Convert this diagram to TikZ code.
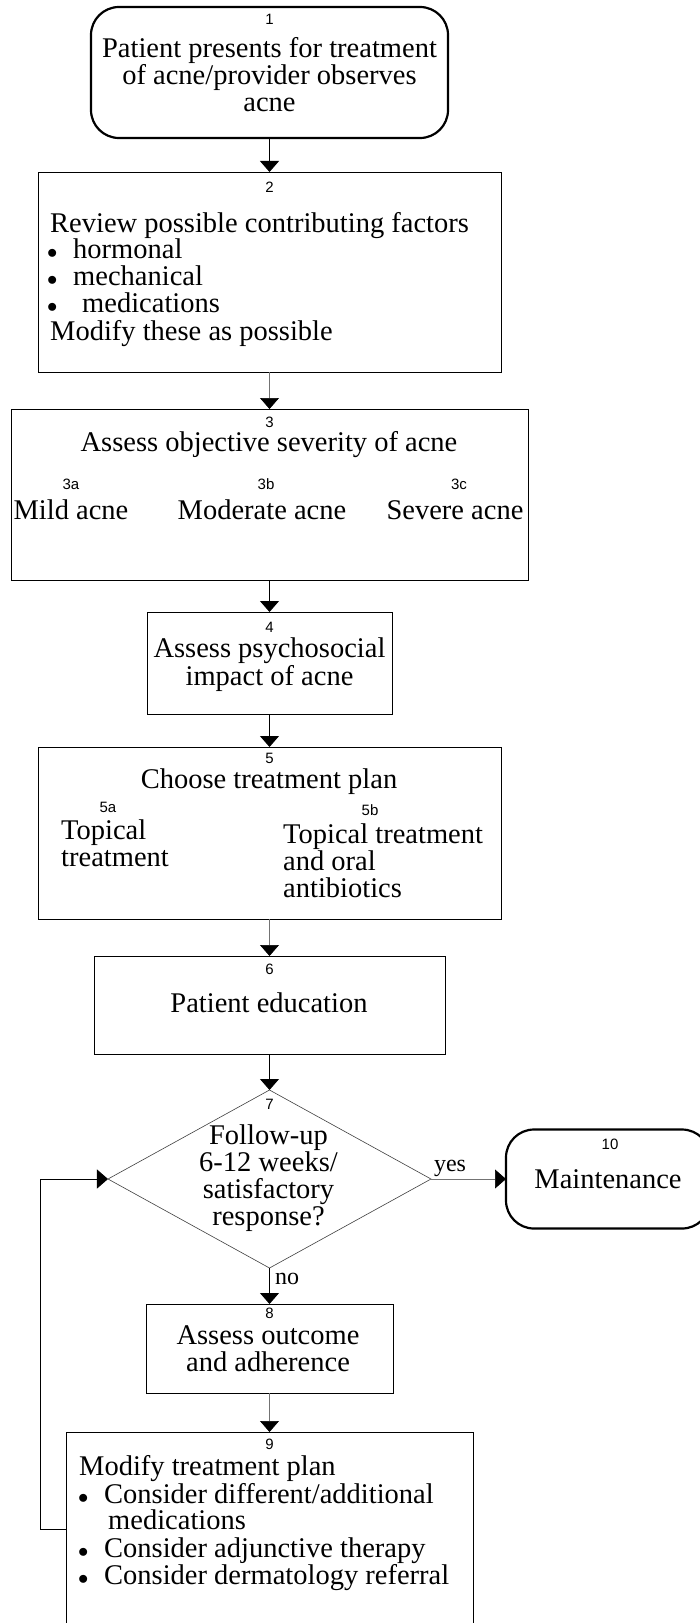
\documentclass[tikz,border=0pt]{standalone}
\usepackage{fontspec}
\setmainfont{Liberation Serif}
\setsansfont{Liberation Sans}
\usetikzlibrary{arrows.meta,shapes.geometric}
\newcommand\bl[1]{\makebox[#1][l]{\fontsize{20bp}{20bp}\selectfont$\bullet$}}
\tikzset{
  box/.style={draw=black, line width=0.9bp, rectangle, inner sep=0pt, outer sep=0pt},
  term/.style={draw=black, line width=2.2bp, rectangle, rounded corners=28bp, inner sep=0pt, outer sep=0pt},
  dec/.style={draw=black!75, line width=0.6bp, diamond, inner sep=0pt, outer sep=0pt},
  txt/.style={font=\fontsize{28.5bp}{30bp}\selectfont, inner sep=0pt, anchor=base},
  txtl/.style={txt, anchor=base west},
  num/.style={font=\sffamily\fontsize{15bp}{15bp}\selectfont, inner sep=0pt, anchor=base},
  tip/.style={-{Triangle[width=19bp,length=11bp,color=black]}},
  conn/.style={tip, draw=black, line width=0.9bp},
  conng/.style={tip, draw=black!55, line width=0.6bp},
}
\begin{document}
\begin{tikzpicture}[x=1bp,y=-1bp]
\useasboundingbox (0,0) rectangle (700,1623);
\fill[white] (0,0) rectangle (700,1623);
\clip (0,0) rectangle (700,1623);

% ---------- shapes ----------
\node[term, minimum width=357bp, minimum height=131bp] (n1) at (269.5,72.5) {};
\node[box, minimum width=463bp, minimum height=200bp] (b2) at (269.5,272) {};
\node[box, minimum width=517bp, minimum height=171bp] (b3) at (269.5,494.5) {};
\node[box, minimum width=245bp, minimum height=102bp] (b4) at (269.5,663) {};
\node[box, minimum width=463bp, minimum height=172bp] (b5) at (269.5,833) {};
\node[box, minimum width=351bp, minimum height=98bp] (b6) at (269.5,1005) {};
\node[dec, minimum width=323bp, minimum height=178bp] (d7) at (269.5,1179) {};
\node[term, minimum width=204bp, minimum height=99bp] (n10) at (608,1179) {};
\node[box, minimum width=247bp, minimum height=89bp] (b8) at (269.5,1348.5) {};
\node[box, minimum width=407bp, minimum height=220bp] (b9) at (269.5,1542) {};

% ---------- texts ----------
% 1
\node[num] (l1) at (269.5,25) {1};
\node[txt] (t1a) at (269.5,58) {Patient presents for treatment};
\node[txt] (t1b) at (269.5,84.5) {of acne/provider observes};
\node[txt] (t1c) at (269.5,111) {acne};
% 2
\node[num] (l2) at (269.5,192) {2};
\node[txtl] (t2a) at (50,232) {Review possible contributing factors};
\node[txtl] (t2b) at (47,258) {\bl{26bp}hormonal};
\node[txtl] (t2c) at (47,285) {\bl{26bp}mechanical};
\node[txtl] (t2d) at (47,312) {\bl{35bp}medications};
\node[txtl] (t2e) at (50,340) {Modify these as possible};
% 3
\node[num] (l3) at (269.5,427) {3};
\node[txt] (t3) at (269,451) {Assess objective severity of acne};
\node[num] (l3a) at (71,489) {3a};
\node[num] (l3b) at (266,489) {3b};
\node[num] (l3c) at (459,489) {3c};
\node[txt] (t3a) at (71,519) {Mild acne};
\node[txt] (t3b) at (262,519) {Moderate acne};
\node[txt] (t3c) at (455,519) {Severe acne};
% 4
\node[num] (l4) at (269.5,632) {4};
\node[txt] (t4a) at (269.5,657) {Assess psychosocial};
\node[txt] (t4b) at (269.5,685) {impact of acne};
% 5
\node[num] (l5) at (269.5,763) {5};
\node[txt] (t5) at (269,788) {Choose treatment plan};
\node[num] (l5a) at (108,812) {5a};
\node[txtl] (t5a1) at (61,839) {Topical};
\node[txtl] (t5a2) at (61,866) {treatment};
\node[num] (l5b) at (370,815) {5b};
\node[txtl] (t5b1) at (283,843) {Topical treatment};
\node[txtl] (t5b2) at (283,870) {and oral};
\node[txtl] (t5b3) at (283,897) {antibiotics};
% 6
\node[num] (l6) at (269.5,974) {6};
\node[txt] (t6) at (269,1012) {Patient education};
% 7
\node[num] (l7) at (269.5,1109) {7};
\node[txt] (t7a) at (268.5,1144) {Follow-up};
\node[txt] (t7b) at (268.5,1171) {6-12 weeks/};
\node[txt] (t7c) at (268.5,1198) {satisfactory};
\node[txt] (t7d) at (268.5,1225) {response?};
% 10
\node[num] (l10) at (610,1149) {10};
\node[txt] (t10) at (608,1188) {Maintenance};
% 8
\node[num] (l8) at (269.5,1318.5) {8};
\node[txt] (t8a) at (268,1344) {Assess outcome};
\node[txt] (t8b) at (268,1371) {and adherence};
% 9
\node[num] (l9) at (269.5,1449) {9};
\node[txtl] (t9a) at (79,1475) {Modify treatment plan};
\node[txtl] (t9b) at (78,1503) {\bl{26bp}Consider different/additional};
\node[txtl] (t9c) at (108,1529) {medications};
\node[txtl] (t9d) at (78,1557) {\bl{26bp}Consider adjunctive therapy};
\node[txtl] (t9e) at (78,1584) {\bl{26bp}Consider dermatology referral};

% ---------- connectors ----------
\draw[conn]  (n1.south) -- (b2.north);
\draw[conng] (b2.south) -- (b3.north);
\draw[conn]  (b3.south) -- (b4.north);
\draw[conn]  (b4.south) -- (b5.north);
\draw[conng] (b5.south) -- (b6.north);
\draw[conn]  (b6.south) -- (d7.north);
\draw[conng] (d7.east) -- (n10.west);
\node[txt, font=\fontsize{24bp}{24bp}\selectfont] (yes) at (450,1171) {yes};
\draw[conn]  (d7.south) -- (b8.north);
\node[txtl, font=\fontsize{24bp}{24bp}\selectfont] (no) at (275,1284) {no};
\draw[conng] (b8.south) -- (b9.north);
\coordinate (fbA) at (40,1529);
\coordinate (fbB) at (40,1179);
\draw[conn] (b9.west |- fbA) -- (fbA) -- (fbB) -- (d7.west);
\end{tikzpicture}
\end{document}
